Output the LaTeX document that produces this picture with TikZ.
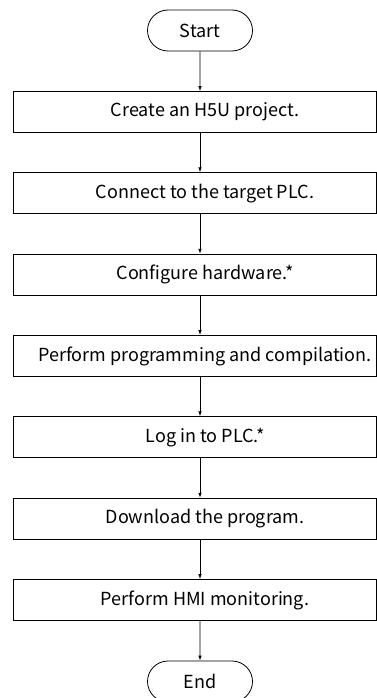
\documentclass[tikz,border=0pt]{standalone}
\usepackage{fontspec}
\setmainfont{Noto Sans CJK SC}
\usetikzlibrary{shapes.misc,arrows.meta}

\tikzset{
  terminal/.style={draw, rounded rectangle, minimum width=105pt, minimum height=41pt, inner sep=0pt},
  stepbox/.style={draw, rectangle, minimum width=363pt, minimum height=41pt, inner sep=0pt},
  steptext/.style={inner sep=0pt},
  flow/.style={-{Latex[length=5pt,width=3.5pt]}}
}

\begin{document}
\begin{tikzpicture}[x=1pt, y=-1pt, line width=0.8pt, font=\fontsize{18}{22}\selectfont]
  \useasboundingbox (0,0) rectangle (377,698);

  \node[terminal] (start) at (200,30.5) {Start};

  \node[stepbox] (b1) at (194.5,112) {};
  \node[steptext] (t1) at (205,112) {Create an H5U project.};
  \node[stepbox] (b2) at (194.5,193.3) {};
  \node[steptext] (t2) at (205,193.3) {Connect to the target PLC.};
  \node[stepbox] (b3) at (194.5,274.7) {};
  \node[steptext] (t3) at (205,274.7) {Configure hardware.*};
  \node[stepbox] (b4) at (194.5,356) {};
  \node[steptext] (t4) at (205,356) {Perform programming and compilation.};
  \node[stepbox] (b5) at (194.5,437.3) {};
  \node[steptext] (t5) at (205,437.3) {Log in to PLC.*};
  \node[stepbox] (b6) at (194.5,518.7) {};
  \node[steptext] (t6) at (205,518.7) {Download the program.};
  \node[stepbox] (b7) at (194.5,600) {};
  \node[steptext] (t7) at (205,600) {Perform HMI monitoring.};

  \node[terminal] (end) at (200,681.5) {End};

  \draw[flow] (start) -- (start |- b1.north);
  \draw[flow] (start |- b1.south) -- (start |- b2.north);
  \draw[flow] (start |- b2.south) -- (start |- b3.north);
  \draw[flow] (start |- b3.south) -- (start |- b4.north);
  \draw[flow] (start |- b4.south) -- (start |- b5.north);
  \draw[flow] (start |- b5.south) -- (start |- b6.north);
  \draw[flow] (start |- b6.south) -- (start |- b7.north);
  \draw[flow] (start |- b7.south) -- (end);
\end{tikzpicture}
\end{document}
